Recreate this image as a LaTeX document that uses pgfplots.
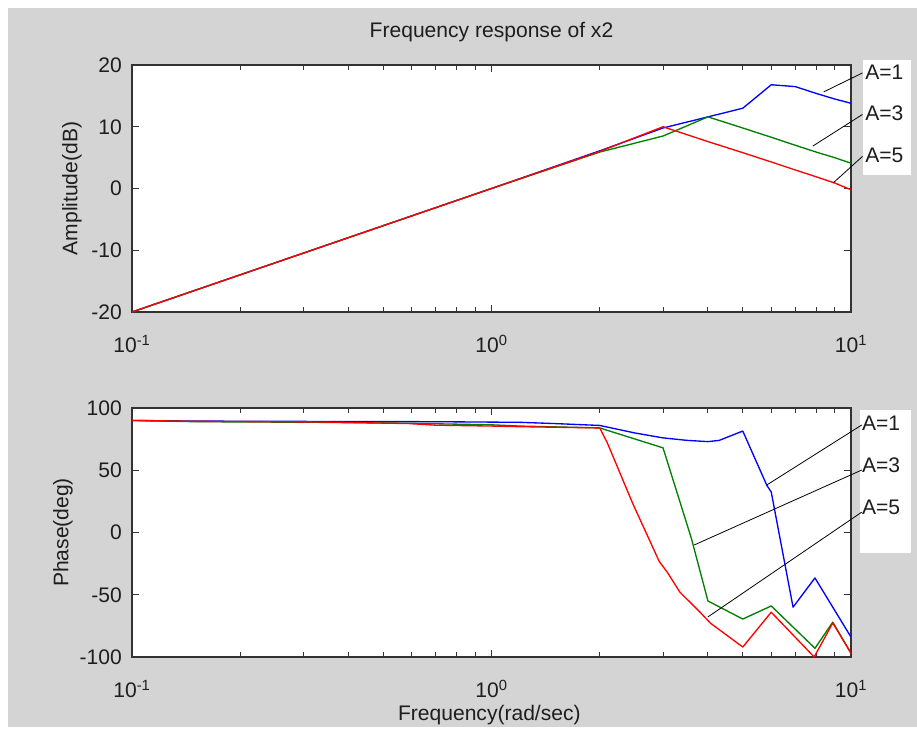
\documentclass[border=0pt]{standalone}
\usepackage{fontspec}
\setmainfont{Liberation Sans}
\usepackage{pgfplots}
\pgfplotsset{compat=1.18}
\definecolor{FigGray}{HTML}{D4D4D4}
\definecolor{MBlue}{rgb}{0,0,1}
\definecolor{MGreen}{rgb}{0,0.5,0}
\definecolor{MRed}{rgb}{1,0,0}
\definecolor{Ink}{HTML}{1E1E1E}
\newcommand{\mfont}{\fontsize{15.8}{18}\selectfont}

\pgfplotsset{
  matlab axis/.style={
    scale only axis,width=539.25pt,
    xmin=0.1,xmax=10,
    axis background/.style={fill=white},
    axis line style={line width=0.9pt,draw=black!80},
    tick style={draw=black!80,line width=0.7pt},
    major tick length=5pt,minor tick length=3.5pt,
    xtick={0.1,1,10},
    xticklabels={10\textsuperscript{-1},10\textsuperscript{0},10\textsuperscript{1}},
    minor xtick={0.2,0.3,0.4,0.5,0.6,0.7,0.8,0.9,2,3,4,5,6,7,8,9},
    xticklabel style={anchor=base,yshift=-30pt},
    yticklabel style={inner sep=0pt,xshift=-7.5pt,anchor=east},
    tick label style={font=\mfont,text=Ink},
    label style={font=\mfont,text=Ink},
    title style={font=\mfont,text=Ink},
    clip mode=individual,
    every axis plot/.append style={line width=1pt,no marks,line join=round},
  },
}
\tikzset{note/.style={font=\mfont,text=Ink,anchor=west,inner sep=0pt}}

\begin{document}
\begin{tikzpicture}
\useasboundingbox (0,0) rectangle (687.75pt,-551.25pt);
\fill[white] (0,0) rectangle (687.75pt,-551.25pt);
\fill[FigGray] (6pt,-6pt) rectangle (687.75pt,-545.25pt);
% label boxes at the right
\fill[white] (647.25pt,-45pt) rectangle (683.25pt,-131.25pt);
\fill[white] (645pt,-307.5pt) rectangle (683.25pt,-414.75pt);

% amplitude
\begin{semilogxaxis}[matlab axis,height=185.25pt,at={(99pt,-234pt)},anchor=south west,
  ymin=-20,ymax=20,ytick={-20,-10,0,10,20},yticklabels={-20,-10,0,10,20},
  title={Frequency response of x2},
  title style={at={(axis description cs:0.5,1.101)},anchor=center},
  ylabel={Amplitude(dB)},
  ylabel style={at={(axis description cs:-0.0834,0.5)},anchor=center}]
  \addplot[MBlue] coordinates {(0.1,-20) (1,0) (2,6.1) (3,9.8) (4,11.6) (5,13.0)
    (6,16.8) (7,16.5) (8,15.4) (9,14.5) (10,13.8)};
  \addplot[MGreen] coordinates {(0.1,-20) (1,0) (2,5.9) (3,8.5) (4,11.6) (5,9.8)
    (6,8.3) (7,7.0) (8,5.9) (9,5.0) (10,4.1)};
  \addplot[MRed] coordinates {(0.1,-20) (1,0) (2,6.0) (3,10.0) (4,7.6) (5,5.8)
    (6,4.3) (7,3.0) (8,1.9) (9,0.9) (10,-0.2)};
  \draw[black,line width=0.6pt] (rel axis cs:1.016,0.968) -- (rel axis cs:0.962,0.891);
  \draw[black,line width=0.6pt] (rel axis cs:1.016,0.800) -- (rel axis cs:0.947,0.672);
  \draw[black,line width=0.6pt] (rel axis cs:1.016,0.630) -- (rel axis cs:0.975,0.522);
  \node[note] at (rel axis cs:1.0195,0.972) {A=1};
  \node[note] at (rel axis cs:1.0195,0.806) {A=3};
  \node[note] at (rel axis cs:1.0195,0.636) {A=5};
\end{semilogxaxis}

% phase
\begin{semilogxaxis}[matlab axis,height=186.75pt,at={(99pt,-492.75pt)},anchor=south west,
  ymin=-100,ymax=100,ytick={-100,-50,0,50,100},yticklabels={-100,-50,0,50,100},
  xlabel={Frequency(rad/sec)},
  xlabel style={at={(axis description cs:0.497,-0.233)},anchor=center},
  ylabel={Phase(deg)},
  ylabel style={at={(axis description cs:-0.096,0.5)},anchor=center}]
  \addplot[MBlue] coordinates {(0.1,90) (0.15,89.5) (0.33,89.2) (0.7,89) (1.2,88.5)
    (1.5,87.5) (2,86) (2.5,80) (3,76) (3.5,74) (4,73) (4.3,74) (5,81.5)
    (5.83,38) (6,32.5) (6.9,-60) (7.94,-36.5) (10,-84)};
  \addplot[MGreen] coordinates {(0.1,90) (0.15,89) (0.33,88.5) (0.6,87.7) (1,86.5)
    (1.2,85.5) (2,84) (3,68) (3.6,-5) (4,-55) (5,-69.5) (6,-59) (7.94,-93)
    (8.9,-72) (10,-97)};
  \addplot[MRed] coordinates {(0.1,90) (0.15,89.3) (0.33,88.8) (0.59,87.5) (0.7,86.2)
    (1,85.5) (1.2,85) (2,84) (2.1,72) (2.47,23.4) (2.93,-23.4) (3.08,-31.7)
    (3.34,-47.8) (3.8,-63.9) (4.06,-72.7) (5,-92) (6,-64) (7.9,-100)
    (8.9,-72.6) (10,-97)};
  \draw[black,line width=0.6pt] (rel axis cs:1.015,0.932) -- (rel axis cs:0.883,0.691);
  \draw[black,line width=0.6pt] (rel axis cs:1.015,0.751) -- (rel axis cs:0.782,0.450);
  \draw[black,line width=0.6pt] (rel axis cs:1.015,0.582) -- (rel axis cs:0.801,0.161);
  \node[note] at (rel axis cs:1.015,0.940) {A=1};
  \node[note] at (rel axis cs:1.015,0.771) {A=3};
  \node[note] at (rel axis cs:1.015,0.602) {A=5};
\end{semilogxaxis}
\end{tikzpicture}
\end{document}
